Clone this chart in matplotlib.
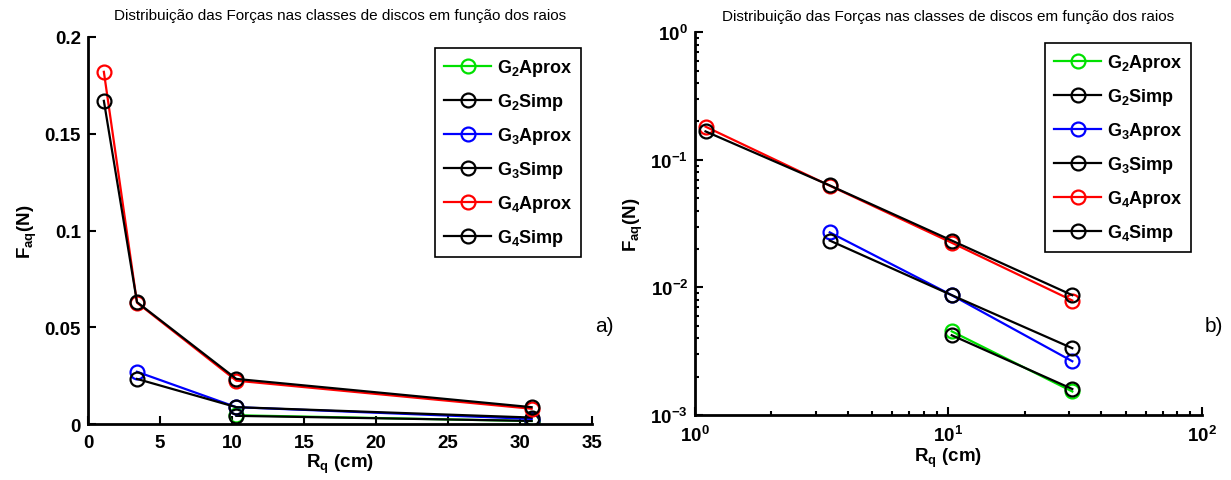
import matplotlib
matplotlib.use('Agg')
import matplotlib.pyplot as plt
from matplotlib.ticker import LogLocator, NullFormatter

plt.rcParams['font.family'] = 'Liberation Sans'
plt.rcParams['mathtext.fontset'] = 'custom'
plt.rcParams['mathtext.rm'] = 'Liberation Sans:bold'
plt.rcParams['mathtext.it'] = 'Liberation Sans:bold'
plt.rcParams['mathtext.bf'] = 'Liberation Sans:bold'
plt.rcParams['mathtext.default'] = 'rm'

# raios (cm) e forcas (N)
R = [1.1, 3.4, 10.3, 30.8]
g2_aprox = [None, None, 0.00453, 0.00153]
g2_simp = [None, None, 0.00422, 0.0016]
g3_aprox = [None, 0.027, 0.0087, 0.00264]
g3_simp = [None, 0.0233, 0.0087, 0.00334]
g4_aprox = [0.182, 0.0627, 0.0224, 0.0079]
g4_simp = [0.167, 0.0630, 0.0233, 0.0087]

series = [
    (r'$\mathregular{G_2}$Aprox', g2_aprox, '#00e000'),
    (r'$\mathregular{G_2}$Simp', g2_simp, 'black'),
    (r'$\mathregular{G_3}$Aprox', g3_aprox, 'blue'),
    (r'$\mathregular{G_3}$Simp', g3_simp, 'black'),
    (r'$\mathregular{G_4}$Aprox', g4_aprox, 'red'),
    (r'$\mathregular{G_4}$Simp', g4_simp, 'black'),
]
titulo = 'Distribuição das Forças nas classes de discos em função dos raios'

fig = plt.figure(figsize=(12.31, 4.81), dpi=100)
ax1 = fig.add_axes([0.0715, 0.1164, 0.4095, 0.8046])
ax2 = fig.add_axes([0.5646, 0.135, 0.4118, 0.796])


def draw(ax, title_pad):
    for name, vals, col in series:
        xs = [r for r, v in zip(R, vals) if v is not None]
        ys = [v for v in vals if v is not None]
        ax.plot(xs, ys, color=col, lw=1.6, marker='o', ms=10,
                mfc='none', mec=col, mew=1.6, label=name)
    for s in ['top', 'right']:
        ax.spines[s].set_visible(False)
    for s in ['left', 'bottom']:
        ax.spines[s].set_linewidth(2)
    ax.tick_params(which='both', direction='in', width=1.5, labelsize=13.5)
    ax.tick_params(which='major', length=6)
    ax.tick_params(which='minor', length=3)
    ax.tick_params(axis='x', pad=7)
    ax.tick_params(axis='y', pad=5)
    for lab in ax.get_xticklabels() + ax.get_yticklabels():
        lab.set_fontweight('bold')
    ax.set_title(titulo, fontsize=11, pad=title_pad)
    ax.set_xlabel(r'R$_\mathregular{q}$ (cm)', fontsize=13.5, fontweight='bold', labelpad=1)
    ax.set_ylabel(r'F$_\mathregular{aq}$(N)', fontsize=13.5, fontweight='bold', labelpad=4)
    leg = ax.legend(loc='upper right', prop={'weight': 'bold', 'size': 13},
                    fancybox=False, edgecolor='black', framealpha=1,
                    handlelength=2.6, labelspacing=0.72, borderpad=0.5,
                    handletextpad=0.3, borderaxespad=0.6)
    leg.get_frame().set_linewidth(1.2)


draw(ax1, 13)
ax1.set_xlim(0, 35)
ax1.set_ylim(0, 0.2)
ax1.set_xticks([0, 5, 10, 15, 20, 25, 30, 35])
ax1.set_yticks([0, 0.05, 0.1, 0.15, 0.2])
ax1.set_yticklabels(['0', '0.05', '0.1', '0.15', '0.2'], fontweight='bold')
ax1.set_xticklabels([str(v) for v in [0, 5, 10, 15, 20, 25, 30, 35]], fontweight='bold')
ax1.text(1.005, 0.24, 'a)', transform=ax1.transAxes, fontsize=15)

ax2.set_xscale('log')
ax2.set_yscale('log')
draw(ax2, 9)
ax2.set_xlim(1, 100)
ax2.set_ylim(1e-3, 1)
ax2.xaxis.set_minor_locator(LogLocator(base=10, subs=range(2, 10)))
ax2.yaxis.set_minor_locator(LogLocator(base=10, subs=range(2, 10)))
ax2.xaxis.set_minor_formatter(NullFormatter())
ax2.yaxis.set_minor_formatter(NullFormatter())
ax2.text(1.005, 0.22, 'b)', transform=ax2.transAxes, fontsize=15)

fig.savefig('out.png', dpi=100)
